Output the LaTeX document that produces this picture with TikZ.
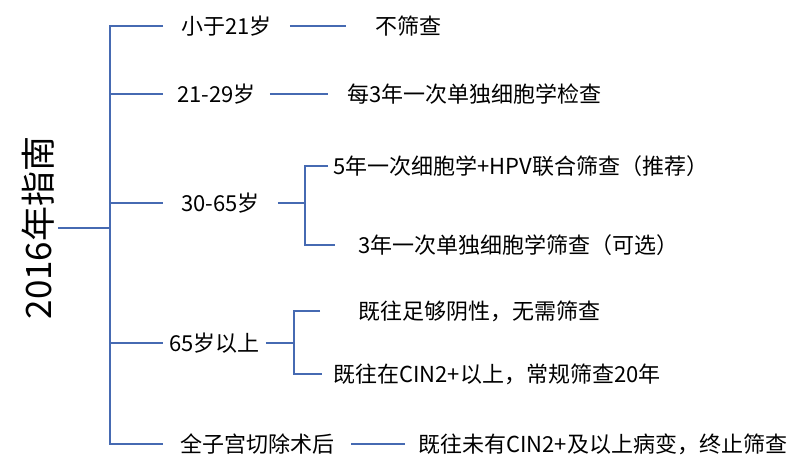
\documentclass[tikz,border=0pt]{standalone}
\usepackage{fontspec}
\setmainfont{Noto Sans CJK SC}
\usepackage{tikz}
\usetikzlibrary{positioning}
\definecolor{guideblue}{RGB}{70,106,178}

\begin{document}
\begin{tikzpicture}[x=1pt,y=-1pt,
		guide/.style={draw=guideblue, line width=1.6pt},
		age/.style={anchor=west, inner ysep=0pt, font=\fontsize{22}{26}\selectfont},
		advice/.style={anchor=west, inner ysep=0pt, font=\fontsize{22}{26}\selectfont}]
		\useasboundingbox (0,0) rectangle (795,467);
		%%nodes
		\node[rotate=90, anchor=south, inner sep=4pt, font=\fontsize{35}{40}\selectfont] (root) at (58,228) {2016年指南};
		\coordinate (hub) at (110,228);
		\node[age, inner xsep=18pt] (age1) at (163,26) {小于21岁};
		\node[age, inner xsep=14pt] (age2) at (163,94) {21-29岁};
		\node[age, inner xsep=18pt] (age3) at (163,203) {30-65岁};
		\node[age, inner xsep=6pt] (age4) at (163,343) {65岁以上};
		\node[age, inner xsep=17pt] (age5) at (163,444) {全子宫切除术后};
		\node[advice, inner xsep=29pt] (adv1) at (346,26) {不筛查};
		\node[advice, inner xsep=19pt] (adv2) at (328,94) {每3年一次单独细胞学检查};
		\coordinate (split3) at (305,203);
		\node[advice, inner xsep=5pt] (adv3a) at (328,166) {5年一次细胞学+HPV联合筛查（推荐）};
		\node[advice, inner xsep=23pt] (adv3b) at (335,245) {3年一次单独细胞学筛查（可选）};
		\coordinate (split4) at (294,343);
		\node[advice, inner xsep=38pt] (adv4a) at (320,311) {既往足够阴性，无需筛查};
		\node[advice, inner xsep=11pt] (adv4b) at (322,374) {既往在CIN2+以上，常规筛查20年};
		\node[advice, inner xsep=13pt] (adv5) at (405,444) {既往未有CIN2+及以上病变，终止筛查};
		%%lines
		\draw[guide] (root.south) -- (hub);
		\draw[guide] (age1.west) -| (hub) |- (age5.west);
		\draw[guide] (hub |- age2.west) -- (age2.west);
		\draw[guide] (hub |- age3.west) -- (age3.west);
		\draw[guide] (hub |- age4.west) -- (age4.west);
		\draw[guide] (age1) -- (adv1);
		\draw[guide] (age2) -- (adv2);
		\draw[guide] (age5) -- (adv5);
		\draw[guide] (age3.east) -- (split3);
		\draw[guide] (adv3a.west) -| (split3) |- (adv3b.west);
		\draw[guide] (age4.east) -- (split4);
		\draw[guide] (adv4a.west) -| (split4) |- (adv4b.west);
	\end{tikzpicture}
\end{document}
